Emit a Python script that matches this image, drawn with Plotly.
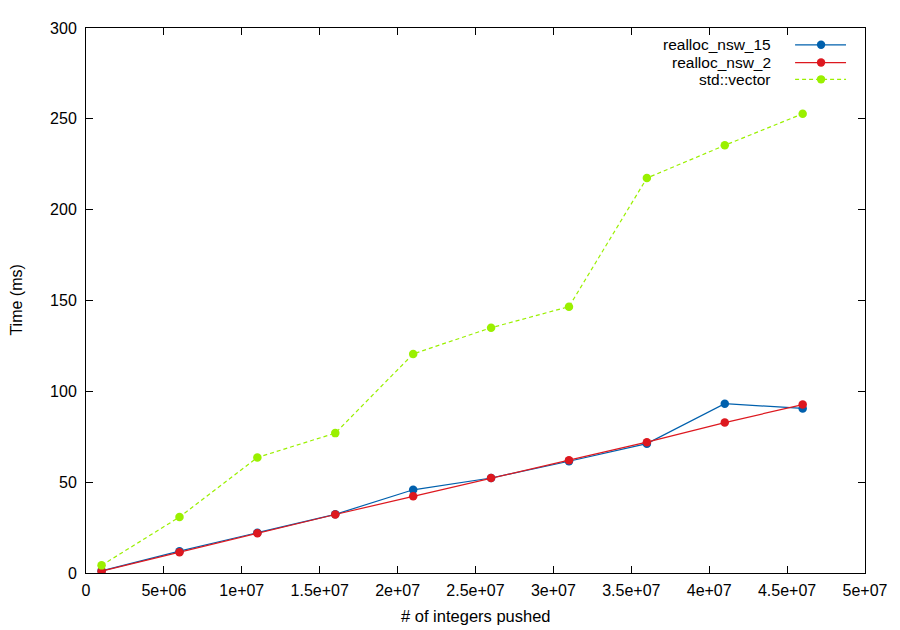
import plotly.graph_objects as go

# data
pushed = [1e6, 6e6, 11e6, 16e6, 21e6, 26e6, 31e6, 36e6, 41e6, 46e6]
nsw_15 = [1.2, 12.0, 22.2, 32.3, 45.8, 52.3, 61.5, 71.2, 93.2, 90.6]
nsw_2 = [1.0, 11.4, 21.9, 32.2, 42.2, 52.3, 62.1, 72.0, 82.8, 92.7]
std_vector = [4.2, 30.8, 63.6, 77.0, 120.6, 135.0, 146.6, 217.4, 235.4, 252.8]

x_ticks = [0, 5e6, 1e7, 1.5e7, 2e7, 2.5e7, 3e7, 3.5e7, 4e7, 4.5e7, 5e7]
x_labels = ["0", "5e+06", "1e+07", "1.5e+07", "2e+07", "2.5e+07",
            "3e+07", "3.5e+07", "4e+07", "4.5e+07", "5e+07"]
y_ticks = [0, 50, 100, 150, 200, 250, 300]

SERIES = [
    ("realloc_nsw_15", nsw_15, "#0060ad", "solid"),
    ("realloc_nsw_2", nsw_2, "#dd181f", "solid"),
    ("std::vector", std_vector, "#9af000", "4px,3px"),
]

FONT = "Liberation Sans, Arial, sans-serif"

fig = go.Figure()
for name, ys, color, dash in SERIES:
    fig.add_trace(go.Scatter(
        x=pushed, y=ys, name=name, mode="lines+markers",
        line=dict(color=color, width=1.2, dash=dash),
        marker=dict(color=color, size=8.5, line=dict(width=0)),
        showlegend=False,
    ))

# gnuplot-style key: right-aligned text, sample on the right
# plot area in screen px: x 86..866, y 21..573
row_y = [38, 56, 73]
shapes = []
annotations = []
for (name, ys, color, dash), py in zip(SERIES, row_y):
    yp = (573 - py) / 552
    shapes.append(dict(type="line", xref="paper", yref="paper",
                       x0=(796 - 86) / 780, x1=(847 - 86) / 780, y0=yp, y1=yp,
                       line=dict(color=color, width=1.2, dash=dash)))
    shapes.append(dict(type="circle", xref="paper", yref="paper",
                       xsizemode="pixel", ysizemode="pixel",
                       xanchor=(822 - 86) / 780, yanchor=yp,
                       x0=-4.2, x1=4.2, y0=-4.2, y1=4.2,
                       fillcolor=color, line=dict(width=0)))
    annotations.append(dict(text=name, xref="paper", yref="paper",
                            x=(774 - 86) / 780, y=yp, xanchor="right", yanchor="middle",
                            showarrow=False, font=dict(size=15.5, color="black")))

annotations.append(dict(text="# of integers pushed", xref="paper", yref="paper",
                        x=0.5, y=(573 - 617) / 552, xanchor="center", yanchor="middle",
                        showarrow=False, font=dict(size=16.5, color="black")))
annotations.append(dict(text="Time (ms)", xref="paper", yref="paper", textangle=-90,
                        x=(16 - 86) / 780, y=0.5, xanchor="center", yanchor="middle",
                        showarrow=False, font=dict(size=16, color="black")))

axis_style = dict(
    showgrid=False, zeroline=False, showline=True, linecolor="black", linewidth=1,
    mirror="allticks", ticks="inside", ticklen=7, tickcolor="black", tickwidth=1,
    tickfont=dict(size=16, color="black"),
)

# the page body has an 8px margin, so the figure is shrunk to fit the window
fig.update_layout(
    width=892, height=622,
    paper_bgcolor="white", plot_bgcolor="white",
    font=dict(family=FONT, color="black", size=16),
    margin=dict(l=78, r=34, t=13, b=57),
    shapes=shapes, annotations=annotations,
    showlegend=False,
)
fig.update_xaxes(range=[0, 5e7], tickvals=x_ticks, ticktext=x_labels,
                 ticklabelstandoff=3, **axis_style)
fig.update_yaxes(range=[0, 300], tickvals=y_ticks, ticklabelstandoff=5, **axis_style)

fig.write_html("out.html")
